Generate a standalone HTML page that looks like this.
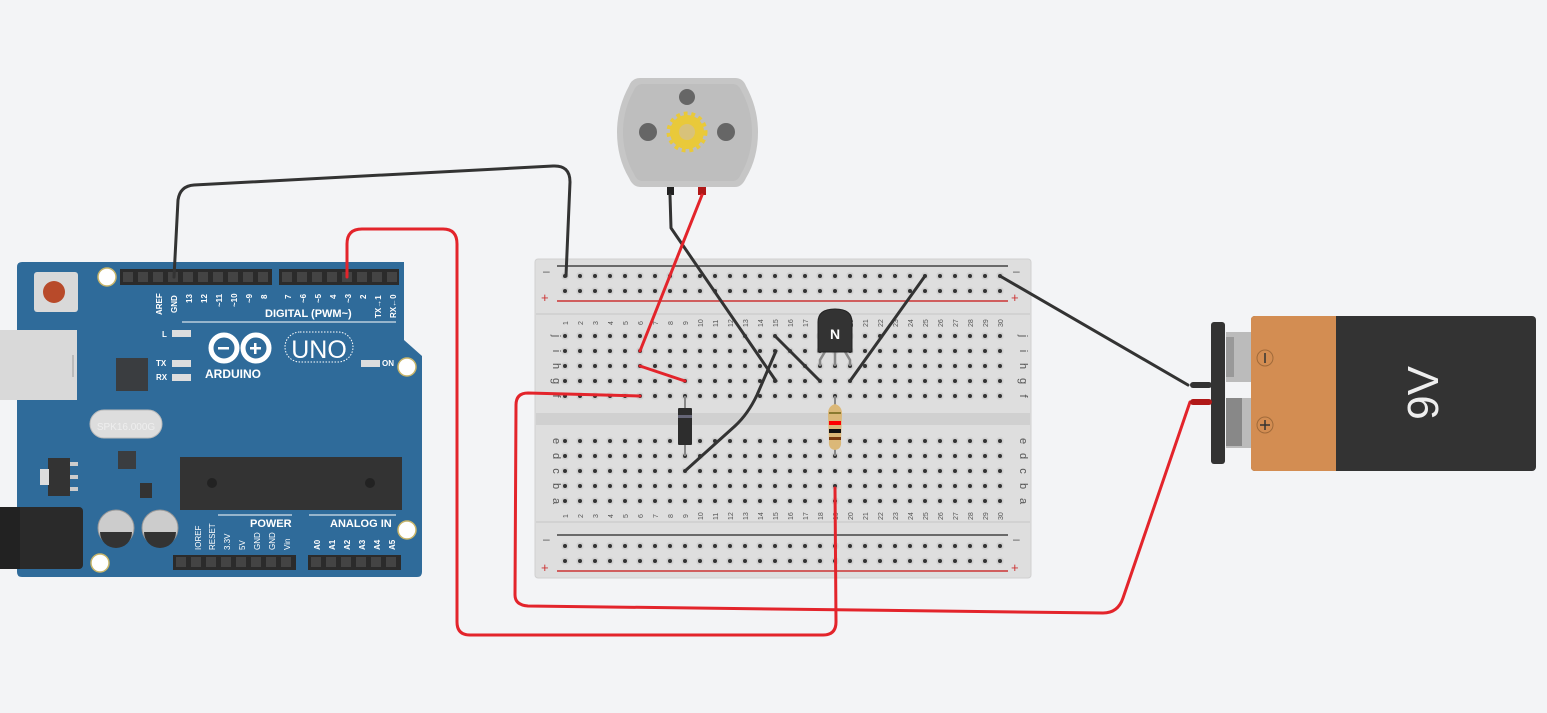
<!DOCTYPE html>
<html><head><meta charset="utf-8"><style>
html,body{margin:0;padding:0;background:#f3f4f6;}
svg{display:block}
text{font-family:"Liberation Sans",sans-serif}
</style></head><body>
<svg id="s" width="1547" height="713" viewBox="0 0 1547 713" xmlns="http://www.w3.org/2000/svg">
<rect width="1547" height="713" fill="#f3f4f6"/>

<!-- Arduino -->
<path d="M22,262 L404,262 L404,340 L422,356 L422,572 Q422,577 417,577 L22,577 Q17,577 17,572 L17,267 Q17,262 22,262 Z" fill="#2f6b9a"/>
<rect x="0" y="330" width="77" height="70" fill="#d9d9d9"/>
<rect x="72" y="355" width="2" height="22" fill="#bbb"/>
<rect x="34" y="272" width="44" height="40" rx="3" fill="#d9d9d9"/>
<circle cx="54" cy="292" r="11" fill="#b84a2a"/>
<circle cx="107" cy="277" r="9" fill="#fff" stroke="#c8b56a" stroke-width="1.5"/>
<circle cx="407" cy="367" r="9" fill="#fff" stroke="#c8b56a" stroke-width="1.5"/>
<circle cx="407" cy="530" r="9" fill="#fff" stroke="#c8b56a" stroke-width="1.5"/>
<circle cx="100" cy="563" r="9" fill="#fff" stroke="#c8b56a" stroke-width="1.5"/>
<rect x="120" y="269" width="152" height="16" fill="#2b2b2b"/>
<rect x="279" y="269" width="120" height="16" fill="#2b2b2b"/>
<rect x="173" y="555" width="123" height="15" fill="#2b2b2b"/>
<rect x="308" y="555" width="93" height="15" fill="#2b2b2b"/>
<g id="pins"></g>
<rect x="116" y="358" width="32" height="33" fill="#3a3d40"/>
<rect x="90" y="410" width="72" height="28" rx="14" fill="#ddd" stroke="#bbb"/>
<text x="126" y="430" font-size="10" fill="#eee" text-anchor="middle">SPK16.000G</text>
<rect x="118" y="451" width="18" height="18" fill="#3a3d40"/>
<rect x="48" y="458" width="22" height="38" fill="#333"/><rect x="40" y="469" width="9" height="16" fill="#ddd"/>
<rect x="70" y="462" width="8" height="4" fill="#ccc"/><rect x="70" y="475" width="8" height="4" fill="#ccc"/><rect x="70" y="487" width="8" height="4" fill="#ccc"/>
<rect x="140" y="483" width="12" height="15" fill="#333"/>
<rect x="180" y="457" width="222" height="53" fill="#333"/>
<circle cx="212" cy="483" r="5" fill="#222"/><circle cx="370" cy="483" r="5" fill="#222"/>
<rect x="0" y="507" width="83" height="62" rx="4" fill="#2a2a2a"/><rect x="0" y="507" width="20" height="62" fill="#222"/>
<circle cx="116" cy="528" r="18" fill="#ccc" stroke="#999"/><path d="M100,532 A16,16 0 0 0 132,532 Z" fill="#333"/>
<circle cx="160" cy="528" r="18" fill="#ccc" stroke="#999"/><path d="M144,532 A16,16 0 0 0 176,532 Z" fill="#333"/>
<rect x="172" y="330" width="19" height="7" fill="#ddd"/>
<rect x="172" y="360" width="19" height="7" fill="#ddd"/>
<rect x="172" y="374" width="19" height="7" fill="#ddd"/>
<rect x="361" y="360" width="19" height="7" fill="#ddd"/>
<g fill="#fff" font-weight="bold" font-size="8">
<text x="162" y="337">L</text><text x="156" y="366">TX</text><text x="156" y="380">RX</text><text x="382" y="366">ON</text>
<text x="205" y="378" font-size="12">ARDUINO</text>
<text x="265" y="317" font-size="11">DIGITAL (PWM~)</text>
<text x="250" y="527" font-size="11">POWER</text>
<text x="330" y="527" font-size="11">ANALOG IN</text>
</g>
<line x1="182" y1="322" x2="396" y2="322" stroke="#fff" stroke-width="1"/>
<line x1="218" y1="515" x2="292" y2="515" stroke="#fff" stroke-width="1"/>
<line x1="309" y1="515" x2="396" y2="515" stroke="#fff" stroke-width="1"/>
<circle cx="224" cy="348" r="13" fill="none" stroke="#fff" stroke-width="5"/>
<circle cx="256" cy="348" r="13" fill="none" stroke="#fff" stroke-width="5"/>
<rect x="218" y="347" width="11" height="2.5" fill="#fff"/><rect x="250" y="347" width="11" height="2.5" fill="#fff"/><rect x="254" y="343" width="2.5" height="11" fill="#fff"/>
<rect x="285" y="332" width="68" height="30" rx="15" fill="none" stroke="#fff" stroke-dasharray="1.5 1.5"/>
<text x="319" y="358" font-size="25" fill="#fff" text-anchor="middle">UNO</text>
<g fill="#fff" font-size="8" font-weight="bold">
<text transform="translate(162,315) rotate(-90)">AREF</text>
<text transform="translate(177,313) rotate(-90)">GND</text>
<text transform="translate(192,303) rotate(-90)">13</text>
<text transform="translate(207,303) rotate(-90)">12</text>
<text transform="translate(222,307) rotate(-90)">~11</text>
<text transform="translate(237,307) rotate(-90)">~10</text>
<text transform="translate(252,303) rotate(-90)">~9</text>
<text transform="translate(267,299) rotate(-90)">8</text>
<text transform="translate(291,299) rotate(-90)">7</text>
<text transform="translate(306,303) rotate(-90)">~6</text>
<text transform="translate(321,303) rotate(-90)">~5</text>
<text transform="translate(336,299) rotate(-90)">4</text>
<text transform="translate(351,303) rotate(-90)">~3</text>
<text transform="translate(366,299) rotate(-90)">2</text>
<text transform="translate(381,318) rotate(-90)">TX→1</text>
<text transform="translate(396,318) rotate(-90)">RX←0</text>
<text transform="translate(201,550) rotate(-90)" font-weight="normal">IOREF</text>
<text transform="translate(215,550) rotate(-90)" font-weight="normal">RESET</text>
<text transform="translate(230,550) rotate(-90)" font-weight="normal">3.3V</text>
<text transform="translate(245,550) rotate(-90)" font-weight="normal">5V</text>
<text transform="translate(260,550) rotate(-90)" font-weight="normal">GND</text>
<text transform="translate(275,550) rotate(-90)" font-weight="normal">GND</text>
<text transform="translate(290,550) rotate(-90)" font-weight="normal">Vin</text>
<text transform="translate(320,550) rotate(-90)">A0</text>
<text transform="translate(335,550) rotate(-90)">A1</text>
<text transform="translate(350,550) rotate(-90)">A2</text>
<text transform="translate(365,550) rotate(-90)">A3</text>
<text transform="translate(380,550) rotate(-90)">A4</text>
<text transform="translate(395,550) rotate(-90)">A5</text>
</g>

<!-- Breadboard -->
<rect x="535" y="259" width="496" height="319" rx="3" fill="#dedede" stroke="#d0d0d0"/>
<rect x="536" y="313" width="494" height="2" fill="#d2d2d2"/>
<rect x="536" y="521" width="494" height="2" fill="#d2d2d2"/>
<rect x="536" y="413" width="494" height="12" fill="#d0d0d0"/>
<line x1="557" y1="266" x2="1008" y2="266" stroke="#444" stroke-width="1.5"/>
<line x1="557" y1="301" x2="1008" y2="301" stroke="#c33" stroke-width="1.5"/>
<line x1="557" y1="535" x2="1008" y2="535" stroke="#444" stroke-width="1.5"/>
<line x1="557" y1="571" x2="1008" y2="571" stroke="#c33" stroke-width="1.5"/>
<g font-size="12" fill="#555"><text x="543" y="275">–</text><text x="1013" y="275">–</text><text x="543" y="543">–</text><text x="1013" y="543">–</text></g>
<g font-size="13" fill="#c33"><text x="541" y="302">+</text><text x="1011" y="302">+</text><text x="541" y="572">+</text><text x="1011" y="572">+</text></g>
<g id="holes"></g>
<g font-size="11" fill="#555" text-anchor="middle">
<text transform="translate(553,336) rotate(90)">j</text><text transform="translate(553,351) rotate(90)">i</text><text transform="translate(553,366) rotate(90)">h</text><text transform="translate(553,381) rotate(90)">g</text><text transform="translate(553,396) rotate(90)">f</text>
<text transform="translate(553,441) rotate(90)">e</text><text transform="translate(553,456) rotate(90)">d</text><text transform="translate(553,471) rotate(90)">c</text><text transform="translate(553,486) rotate(90)">b</text><text transform="translate(553,501) rotate(90)">a</text>
<text transform="translate(1020,336) rotate(90)">j</text><text transform="translate(1020,351) rotate(90)">i</text><text transform="translate(1020,366) rotate(90)">h</text><text transform="translate(1020,381) rotate(90)">g</text><text transform="translate(1020,396) rotate(90)">f</text>
<text transform="translate(1020,441) rotate(90)">e</text><text transform="translate(1020,456) rotate(90)">d</text><text transform="translate(1020,471) rotate(90)">c</text><text transform="translate(1020,486) rotate(90)">b</text><text transform="translate(1020,501) rotate(90)">a</text>
</g>
<g font-size="7" fill="#555" id="nums">
<text transform="translate(568,325) rotate(-90)">1</text><text transform="translate(583,325) rotate(-90)">2</text><text transform="translate(598,325) rotate(-90)">3</text><text transform="translate(613,325) rotate(-90)">4</text><text transform="translate(628,325) rotate(-90)">5</text><text transform="translate(643,325) rotate(-90)">6</text><text transform="translate(658,325) rotate(-90)">7</text><text transform="translate(673,325) rotate(-90)">8</text><text transform="translate(688,325) rotate(-90)">9</text><text transform="translate(703,327) rotate(-90)">10</text><text transform="translate(718,327) rotate(-90)">11</text><text transform="translate(733,327) rotate(-90)">12</text><text transform="translate(748,327) rotate(-90)">13</text><text transform="translate(763,327) rotate(-90)">14</text><text transform="translate(778,327) rotate(-90)">15</text><text transform="translate(793,327) rotate(-90)">16</text><text transform="translate(808,327) rotate(-90)">17</text><text transform="translate(823,327) rotate(-90)">18</text><text transform="translate(838,327) rotate(-90)">19</text><text transform="translate(853,327) rotate(-90)">20</text><text transform="translate(868,327) rotate(-90)">21</text><text transform="translate(883,327) rotate(-90)">22</text><text transform="translate(898,327) rotate(-90)">23</text><text transform="translate(913,327) rotate(-90)">24</text><text transform="translate(928,327) rotate(-90)">25</text><text transform="translate(943,327) rotate(-90)">26</text><text transform="translate(958,327) rotate(-90)">27</text><text transform="translate(973,327) rotate(-90)">28</text><text transform="translate(988,327) rotate(-90)">29</text><text transform="translate(1003,327) rotate(-90)">30</text>
<text transform="translate(568,518) rotate(-90)">1</text><text transform="translate(583,518) rotate(-90)">2</text><text transform="translate(598,518) rotate(-90)">3</text><text transform="translate(613,518) rotate(-90)">4</text><text transform="translate(628,518) rotate(-90)">5</text><text transform="translate(643,518) rotate(-90)">6</text><text transform="translate(658,518) rotate(-90)">7</text><text transform="translate(673,518) rotate(-90)">8</text><text transform="translate(688,518) rotate(-90)">9</text><text transform="translate(703,520) rotate(-90)">10</text><text transform="translate(718,520) rotate(-90)">11</text><text transform="translate(733,520) rotate(-90)">12</text><text transform="translate(748,520) rotate(-90)">13</text><text transform="translate(763,520) rotate(-90)">14</text><text transform="translate(778,520) rotate(-90)">15</text><text transform="translate(793,520) rotate(-90)">16</text><text transform="translate(808,520) rotate(-90)">17</text><text transform="translate(823,520) rotate(-90)">18</text><text transform="translate(838,520) rotate(-90)">19</text><text transform="translate(853,520) rotate(-90)">20</text><text transform="translate(868,520) rotate(-90)">21</text><text transform="translate(883,520) rotate(-90)">22</text><text transform="translate(898,520) rotate(-90)">23</text><text transform="translate(913,520) rotate(-90)">24</text><text transform="translate(928,520) rotate(-90)">25</text><text transform="translate(943,520) rotate(-90)">26</text><text transform="translate(958,520) rotate(-90)">27</text><text transform="translate(973,520) rotate(-90)">28</text><text transform="translate(988,520) rotate(-90)">29</text><text transform="translate(1003,520) rotate(-90)">30</text>
</g>

<!-- Diode -->
<line x1="685" y1="396" x2="685" y2="456" stroke="#888" stroke-width="2"/>
<rect x="678" y="408" width="14" height="37" rx="1" fill="#2d2d2d"/>
<rect x="678" y="415" width="14" height="3" fill="#667"/>
<!-- Resistor -->
<line x1="835" y1="396" x2="835" y2="456" stroke="#888" stroke-width="2"/>
<path d="M835,404 Q842,406 842,414 L841,441 Q842,449 835,450 Q828,449 829,441 L828,414 Q828,406 835,404 Z" fill="#dbb878"/>
<rect x="829" y="412" width="12" height="2" fill="#8a7a30"/>
<rect x="829" y="421" width="12" height="4" fill="#f00"/>
<rect x="829" y="429" width="12" height="4" fill="#111"/>
<rect x="829" y="437" width="12" height="3" fill="#7a3b10"/>
<!-- Transistor -->
<g stroke="#888" stroke-width="2.5" fill="none"><path d="M826,350 L820,360 L820,366"/><line x1="835" y1="350" x2="835" y2="366"/><path d="M844,350 L850,360 L850,366"/></g>
<path d="M818,352 L818,322 Q818,309 835,309 Q852,309 852,322 L852,352 Z" fill="#333" stroke="#222"/>
<text x="835" y="339" font-size="14" font-weight="bold" fill="#fff" text-anchor="middle">N</text>

<!-- Motor -->
<path d="M640,78 L735,78 Q743,78 746,86 Q758,108 758,132 Q758,158 746,178 Q742,187 735,187 L640,187 Q633,187 629,178 Q617,158 617,132 Q617,108 629,86 Q632,78 640,78 Z" fill="#c6c6c6"/>
<path d="M642,84 L733,84 Q738,84 741,90 Q752,110 752,132 Q752,155 741,174 Q738,181 733,181 L642,181 Q637,181 634,174 Q623,155 623,132 Q623,110 634,90 Q637,84 642,84 Z" fill="#bebebe"/>
<circle cx="687" cy="97" r="8" fill="#666"/>
<circle cx="648" cy="132" r="9" fill="#666"/>
<circle cx="726" cy="132" r="9" fill="#666"/>
<circle cx="687" cy="132" r="17" fill="#e9c93a" stroke="#e9c93a" stroke-width="7" stroke-dasharray="3.5 3.5"/>
<circle cx="687" cy="132" r="8" fill="#d8c27a"/>
<rect x="667" y="187" width="7" height="8" fill="#222"/>
<rect x="698" y="187" width="8" height="8" fill="#b01818"/>

<!-- Battery -->
<rect x="1226" y="332" width="30" height="50" fill="#bbb"/><rect x="1226" y="337" width="8" height="40" fill="#999"/>
<rect x="1226" y="398" width="30" height="50" fill="#bbb"/><rect x="1226" y="398" width="16" height="48" fill="#888"/>
<rect x="1211" y="322" width="14" height="142" rx="3" fill="#333"/>
<rect x="1251" y="316" width="285" height="155" rx="4" fill="#333"/>
<path d="M1255,316 L1336,316 L1336,471 L1255,471 Q1251,471 1251,467 L1251,320 Q1251,316 1255,316 Z" fill="#d38d52"/>
<circle cx="1265" cy="358" r="8" fill="none" stroke="#a06a3a"/><line x1="1265" y1="353" x2="1265" y2="363" stroke="#333" stroke-width="1.5"/>
<circle cx="1265" cy="425" r="8" fill="none" stroke="#a06a3a"/><line x1="1260" y1="425" x2="1270" y2="425" stroke="#333" stroke-width="1.5"/><line x1="1265" y1="420" x2="1265" y2="430" stroke="#333" stroke-width="1.5"/>
<text transform="translate(1438,393) rotate(-90)" font-size="44" fill="#eee" text-anchor="middle">9V</text>

<!-- Wires -->
<g fill="none" stroke-width="3" stroke-linecap="round" stroke-linejoin="round">
<path d="M174,277 L178,200 Q180,186 194,185 L553,166 Q570,165 570,182 L566,276" stroke="#333"/>
<path d="M347,277 L347,244 Q347,229 362,229 L443,229 Q457,229 457,244 L457,622 Q457,635 470,635 L823,635 Q836,635 836,622 L835,488" stroke="#e3242b"/>
<path d="M670,195 L671,228 L776,381" stroke="#333"/>
<path d="M702,195 L640,351" stroke="#e3242b"/>
<path d="M640,366 L685,381" stroke="#e3242b"/>
<path d="M640,396 L528,393 Q516,393 516,405 L515,595 Q515,605 528,606 L1103,613 Q1118,613 1123,598 L1190,402" stroke="#e3242b"/>
<path d="M1000,276 L1188,385" stroke="#333"/>
<path d="M775,336 L820,381" stroke="#333"/>
<path d="M850,381 L925,276" stroke="#333"/>
<path d="M776,351 L757,395 Q748,414 735,426 L685,471" stroke="#333"/>
</g>
<rect x="1190" y="382" width="22" height="6" rx="3" fill="#333"/>
<rect x="1190" y="399" width="22" height="6" rx="3" fill="#b01818"/>
</svg>
<script>
var ns="http://www.w3.org/2000/svg";
var h=document.getElementById("holes");
function hole(x,y){var c=document.createElementNS(ns,"rect");c.setAttribute("x",x-3.5);c.setAttribute("y",y-3.5);c.setAttribute("width",7);c.setAttribute("height",7);c.setAttribute("rx",2.5);c.setAttribute("fill","#cfcfcf");h.appendChild(c);
var d=document.createElementNS(ns,"circle");d.setAttribute("cx",x);d.setAttribute("cy",y);d.setAttribute("r",2);d.setAttribute("fill","#333");h.appendChild(d);}
var ys=[276,291,336,351,366,381,396,441,456,471,486,501,546,561];
for(var i=0;i<30;i++){for(var j=0;j<ys.length;j++)hole(565+15*i,ys[j]);}
var p=document.getElementById("pins");
function pin(x,y){var r=document.createElementNS(ns,"rect");r.setAttribute("x",x-5);r.setAttribute("y",y-5);r.setAttribute("width",10);r.setAttribute("height",10);r.setAttribute("fill","#444");p.appendChild(r);}
for(var i=0;i<10;i++)pin(128+15*i,277);
for(var i=0;i<8;i++)pin(287+15*i,277);
for(var i=0;i<8;i++)pin(181+15*i,562);
for(var i=0;i<6;i++)pin(316+15*i,562);
</script>
</body></html>
